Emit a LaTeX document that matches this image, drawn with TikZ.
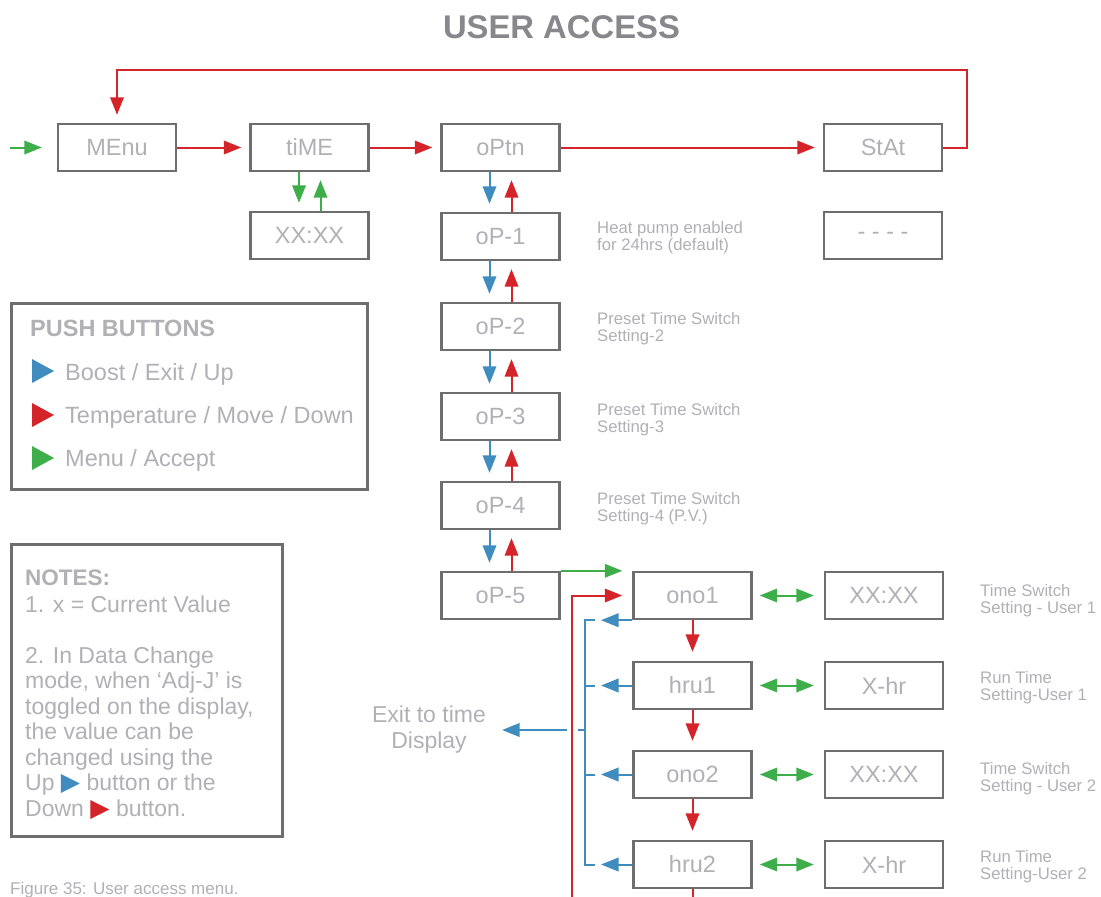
\documentclass[tikz,border=0pt]{standalone}
\usepackage{fontspec}
\setmainfont{Liberation Sans}
\newfontfamily\dejavu{DejaVu Sans}
\usetikzlibrary{arrows.meta,calc}
\definecolor{cred}{RGB}{213,35,42}
\definecolor{cblue}{RGB}{64,140,190}
\definecolor{cgreen}{RGB}{62,174,74}
\definecolor{cbox}{RGB}{110,110,110}
\definecolor{ctext}{RGB}{176,176,181}
\definecolor{ctitle}{RGB}{135,135,140}
\tikzset{
  box/.style={draw=cbox, line width=2.4pt, minimum width=118pt, minimum height=47pt, inner sep=0pt, text=ctext, font=\fontsize{23.5}{26}\selectfont},
  panel/.style={draw=cbox, line width=2.4pt, inner sep=0pt},
  tip/.style={-{Triangle[length=17.5pt,width=13.5pt]}},
  redarr/.style={line width=2pt, color=cred, tip},
  bluearr/.style={line width=2pt, color=cblue, tip},
  greenarr/.style={line width=2pt, color=cgreen, tip},
  dbl/.style={line width=2pt, color=cgreen, {Triangle[length=17.5pt,width=13.5pt]}-{Triangle[length=17.5pt,width=13.5pt]}},
  bline/.style={line width=2pt, color=cblue},
  rline/.style={line width=2pt, color=cred},
  lbl/.style={text=ctext, font=\fontsize{16.7}{17}\selectfont, align=left, anchor=west, inner sep=0pt},
  big/.style={text=ctext, font=\fontsize{23}{25.5}\selectfont, anchor=base west, inner sep=0pt},
  head/.style={text=ctext, font=\bfseries\fontsize{23}{25}\selectfont, anchor=base west, inner sep=0pt},
}
\begin{document}
\begin{tikzpicture}[x=1pt,y=-1pt]
\useasboundingbox (0,0) rectangle (1101,897);
% title
\node[anchor=base, inner sep=0pt, text=ctitle, font=\bfseries\fontsize{32.8}{34}\selectfont] (title) at (561.5,38.5) {USER ACCESS};
% boxes
\node[box] (menu) at (117,147.5) {MEnu};
\node[box] (time) at (309.5,147.5) {tiME};
\node[box] (tval) at (309.5,235.5) {XX:XX};
\node[box] (optn) at (500.5,147.5) {oPtn};
\node[box] (op1) at (500.5,236.5) {oP-1};
\node[box] (op2) at (500.5,326.5) {oP-2};
\node[box] (op3) at (500.5,416.5) {oP-3};
\node[box] (op4) at (500.5,505.5) {oP-4};
\node[box] (op5) at (500.5,595.5) {oP-5};
\node[box] (stat) at (883,147.5) {StAt};
\node[box] (sval) at (883,235.5) {- - - -};
\node[box] (ono1) at (692.5,595.5) {ono1};
\node[box] (hru1) at (692.5,685.5) {hru1};
\node[box] (ono2) at (692.5,774.5) {ono2};
\node[box] (hru2) at (692.5,864.5) {hru2};
\node[box] (v1) at (884,595.5) {XX:XX};
\node[box] (v2) at (884,685.5) {X-hr};
\node[box] (v3) at (884,774.5) {XX:XX};
\node[box] (v4) at (884,864.5) {X-hr};
% side labels
\node[lbl] (l1) at (597,238) {Heat pump enabled\\for 24hrs (default)};
\node[lbl] (l2) at (597,329) {Preset Time Switch\\Setting-2};
\node[lbl] (l3) at (597,420) {Preset Time Switch\\Setting-3};
\node[lbl] (l4) at (597,509) {Preset Time Switch\\Setting-4 (P.V.)};
\node[lbl] (r1) at (980,601) {Time Switch\\Setting - User 1};
\node[lbl] (r2) at (980,688) {Run Time\\Setting-User 1};
\node[lbl] (r3) at (980,779) {Time Switch\\Setting - User 2};
\node[lbl] (r4) at (980,867) {Run Time\\Setting-User 2};
% top row connectors
\coordinate (start) at (10,147.5);
\draw[greenarr, shorten >=15pt] (start) -- (menu.west);
\draw[redarr, shorten >=8pt] (menu.east) -- (time.west);
\draw[redarr, shorten >=8pt] (time.east) -- (optn.west);
\draw[redarr, shorten >=8pt] (optn.east) -- (stat.west);
\coordinate (loopc) at (967,70);
\draw[redarr, shorten >=8pt] (stat.east) -| (loopc) -| (menu.north);
% time pair
\draw[greenarr, shorten >=8pt] ([xshift=-10.5pt]time.south) -- ([xshift=-10.5pt]tval.north);
\draw[greenarr, shorten >=8pt] ([xshift=11pt]tval.north) -- ([xshift=11pt]time.south);
% option chain
\foreach \a/\b in {optn/op1,op1/op2,op2/op3,op3/op4,op4/op5}{
  \draw[bluearr, shorten >=8pt] ([xshift=-11pt]\a.south) -- ([xshift=-11pt]\b.north);
  \draw[redarr, shorten >=8pt] ([xshift=11pt]\b.north) -- ([xshift=11pt]\a.south);
}
% into ono1
\draw[greenarr, shorten >=10pt] (op5.north east) -- (ono1.north west);
\coordinate (rin) at (572,897);
\draw[redarr, shorten >=10pt] (rin) |- (ono1.west);
% right column chain
\foreach \a/\b in {ono1/hru1,hru1/ono2,ono2/hru2}{
  \draw[redarr, shorten >=9pt] (\a.south) -- (\b.north);
}
\coordinate (rb) at (692.5,897);
\draw[rline] (hru2.south) -- (rb);
\foreach \a/\b in {ono1/v1,hru1/v2,ono2/v3,hru2/v4}{
  \draw[dbl, shorten <=7pt, shorten >=10pt] (\a.east) -- (\b.west);
}
% blue exit bus
\coordinate (busx) at (585,0);
\coordinate (b1) at (ono1.south west -| busx);
\coordinate (b2) at (hru1.west -| busx);
\coordinate (b3) at (ono2.west -| busx);
\coordinate (b4) at (hru2.west -| busx);
\draw[bline] ($(b1)+(10,0)$) -- (b1) -- (b4) -- ($(b4)+(10,0)$);
\draw[bline] (b2) -- ++(10,0);
\draw[bline] (b3) -- ++(10,0);
\draw[bluearr, shorten >=16pt] (ono1.south west) -- (b1);
\draw[bluearr, shorten >=16pt] (hru1.west) -- (b2);
\draw[bluearr, shorten >=16pt] (ono2.west) -- (b3);
\draw[bluearr, shorten >=16pt] (hru2.west) -- (b4);
\node[text=ctext, font=\fontsize{23}{26}\selectfont, align=center, inner sep=0pt] (exit) at (429,730) {Exit to time\\Display};
\coordinate (bx) at (585,730);
\coordinate (xh1) at (578,730);
\coordinate (xh2) at (567,730);
\draw[bline] (bx) -- (xh1);
\draw[bluearr, shorten >=16pt] (xh2) -- (exit.east |- xh2);
% push buttons panel
\node[panel, minimum width=356pt, minimum height=186pt] (pb) at (189.5,396.5) {};
\node[head, font=\bfseries\fontsize{23.5}{25}\selectfont] (pbt) at (30,336.5) {PUSH BUTTONS};
\fill[cblue] (32,359) -- (54,371) -- (32,383) -- cycle;
\fill[cred] (32,403) -- (54,415) -- (32,427) -- cycle;
\fill[cgreen] (32,446) -- (54,458) -- (32,470) -- cycle;
\node[big, font=\fontsize{23.5}{25.5}\selectfont] (pb1) at (65,380) {Boost / Exit / Up};
\node[big, font=\fontsize{23.5}{25.5}\selectfont] (pb2) at (65,423) {Temperature / Move / Down};
\node[big, font=\fontsize{23.5}{25.5}\selectfont] (pb3) at (65,466) {Menu / Accept};
% notes panel
\node[panel, minimum width=271pt, minimum height=292pt] (nb) at (147,690.5) {};
\node[head, font=\bfseries\fontsize{22.5}{25}\selectfont] (nt) at (25,585) {NOTES:};
\node[big] (n1) at (25,612) {1. x = Current Value};
\node[big] (n2) at (25,663) {2. In Data Change};
\node[big] (n3) at (25,688.5) {mode, when ‘Adj-J’ is};
\node[big] (n4) at (25,714) {toggled on the display,};
\node[big] (n5) at (25,739.5) {the value can be};
\node[big] (n6) at (25,765) {changed using the};
\node[big] (n7) at (25,790.5) {Up {\dejavu\fontsize{25}{25}\selectfont\textcolor{cblue}{▶}} button or the};
\node[big] (n8) at (25,816) {Down {\dejavu\fontsize{25}{25}\selectfont\textcolor{cred}{▶}} button.};
% caption
\node[anchor=base west, inner sep=0pt, text=ctext, font=\fontsize{17}{17}\selectfont] (cap) at (10,894) {Figure 35: User access menu.};
\end{tikzpicture}
\end{document}
